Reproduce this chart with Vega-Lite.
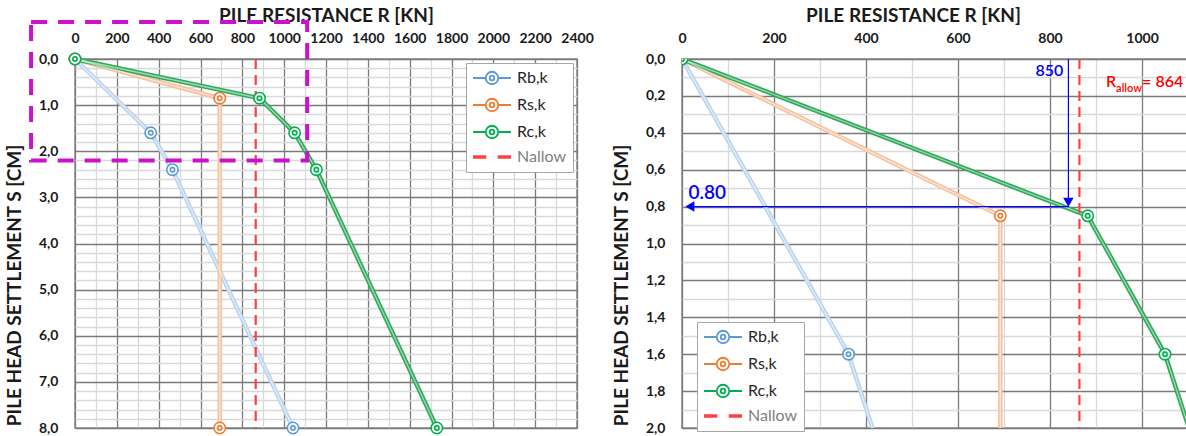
{
  "$schema": "https://vega.github.io/schema/vega-lite/v6.json",
  "padding": {"left": 4, "top": 5, "right": 0, "bottom": 0},
  "spacing": 17,
  "datasets": {
    "curves": [
      {"series": "Rb,k", "R": 0, "s": 0},
      {"series": "Rb,k", "R": 362, "s": 1.6},
      {"series": "Rb,k", "R": 466, "s": 2.4},
      {"series": "Rb,k", "R": 1042, "s": 8.0},
      {"series": "Rs,k", "R": 0, "s": 0},
      {"series": "Rs,k", "R": 692, "s": 0.85},
      {"series": "Rs,k", "R": 692, "s": 8.0},
      {"series": "Rc,k", "R": 0, "s": 0},
      {"series": "Rc,k", "R": 882, "s": 0.85},
      {"series": "Rc,k", "R": 1050, "s": 1.6},
      {"series": "Rc,k", "R": 1154, "s": 2.4},
      {"series": "Rc,k", "R": 1730, "s": 8.0}
    ],
    "nallow": [{"series": "Nallow", "R": 864}],
    "zoombox": [{"R": -210, "R2": 1110, "s": -0.8, "s2": 2.2}],
    "arrowV": [{"R": 840, "s": 0, "s2": 0.8}],
    "arrowH": [{"R": 840, "R2": 12, "s": 0.8}],
    "headV": [{"R": 840, "s": 0.776}],
    "headH": [{"R": 17, "s": 0.8}],
    "lab850": [{"R": 840, "s": 0.065, "text": "850"}],
    "lab080": [{"R": 14, "s": 0.725, "text": "0.80"}],
    "labR": [{"R": 922, "s": 0.125, "text": "R"}],
    "labAllow": [{"R": 922, "s": 0.125, "text": "allow"}],
    "labVal": [{"R": 922, "s": 0.125, "text": "=  864"}]
  },
  "resolve": {
    "scale": {"color": "independent", "stroke": "independent", "x": "independent", "y": "independent"},
    "legend": {"color": "independent"}
  },
  "hconcat": [
    {
      "width": 502,
      "height": 369,
      "layer": [
        {
          "data": {"name": "curves"},
          "mark": {"type": "line", "strokeWidth": 4.5, "strokeJoin": "round"},
          "encoding": {
            "x": {
              "field": "R", "type": "quantitative",
              "scale": {"domain": [0, 2400], "nice": false, "zero": false},
              "axis": {
                "orient": "top",
                "values": [0,100,200,300,400,500,600,700,800,900,1000,1100,1200,1300,1400,1500,1600,1700,1800,1900,2000,2100,2200,2300,2400],
                "tickCount": 1000,
                "format": "d",
                "labelExpr": "datum.value % 200 === 0 ? datum.label : ''",
                "grid": true,
                "gridColor": {"condition": {"test": "datum.value % 200 === 0", "value": "#7a7a7a"}, "value": "#d9d9d9"},
                "labelPadding": 14,
                "title": "PILE RESISTANCE  R [KN]",
                "titlePadding": 6
              }
            },
            "y": {
              "field": "s", "type": "quantitative",
              "scale": {"domain": [0, 8], "reverse": true, "nice": false, "zero": false},
              "axis": {
                "values": [0,0.2,0.4,0.6,0.8,1,1.2,1.4,1.6,1.8,2,2.2,2.4,2.6,2.8,3,3.2,3.4,3.6,3.8,4,4.2,4.4,4.6,4.8,5,5.2,5.4,5.6,5.8,6,6.2,6.4,6.6,6.8,7,7.2,7.4,7.6,7.8,8],
                "tickCount": 1000,
                "labelExpr": "abs(datum.value - round(datum.value)) < 0.001 ? replace(format(datum.value, '.1f'), '.', ',') : ''",
                "grid": true,
                "gridColor": {"condition": {"test": "abs(datum.value - round(datum.value)) < 0.001", "value": "#7a7a7a"}, "value": "#d9d9d9"},
                "labelPadding": 17,
                "title": "PILE HEAD SETTLEMENT  S [CM]",
                "titlePadding": 14,
                "titleY": 226
              }
            },
            "stroke": {
              "field": "series", "type": "nominal",
              "scale": {"domain": ["Rb,k", "Rs,k", "Rc,k"], "range": ["#bcd5ee", "#f6c3a0", "#2eaa58"]},
              "legend": null
            },
            "order": {"field": "s"}
          }
        },
        {
          "data": {"name": "curves"},
          "mark": {"type": "line", "strokeWidth": 1.3, "color": "white", "opacity": 0.55},
          "encoding": {
            "x": {"field": "R", "type": "quantitative"},
            "y": {"field": "s", "type": "quantitative"},
            "detail": {"field": "series"},
            "order": {"field": "s"}
          }
        },
        {
          "data": {"name": "nallow"},
          "mark": {"type": "rule", "strokeDash": [10, 6], "strokeWidth": 2.2},
          "encoding": {
            "x": {"field": "R", "type": "quantitative"},
            "color": {
              "field": "series", "type": "nominal",
              "scale": {"domain": ["Rb,k", "Rs,k", "Rc,k", "Nallow"], "range": ["#5b9bd5", "#ed7d31", "#00b050", "#ff4040"]},
              "legend": {
                "orient": "top-right", "offset": 4, "title": null,
                "strokeColor": "#a6a6a6", "fillColor": "white", "padding": 7,
                "symbolSize": 1444, "labelFontSize": 16, "labelFont": "Lato",
                "rowPadding": 7, "labelOffset": 6,
                "encode": {
                  "symbols": {
                    "enter": {"size": {"value": 1444}, "x": {"value": 19}},
                    "update": {
                      "shape": {"signal": "datum.value === 'Nallow' ? 'M-1,0H-0.3M0.3,0H1' : 'M-1,0H-0.33M0.33,0H1M-0.33,0A0.33,0.33 0 1,1 0.33,0A0.33,0.33 0 1,1 -0.33,0M-0.12,0A0.12,0.12 0 1,1 0.12,0A0.12,0.12 0 1,1 -0.12,0'"},
                      "size": {"value": 1444},
                      "x": {"value": 19},
                      "fill": {"value": "transparent"},
                      "strokeWidth": {"signal": "datum.value === 'Nallow' ? 3.5 : 1.8"},
                      "opacity": {"value": 1}
                    }
                  },
                  "labels": {
                    "enter": {"x": {"value": 44}},
                    "update": {
                      "x": {"value": 44},
                      "fill": {"signal": "datum.value === 'Nallow' ? '#808080' : '#262626'"}
                    }
                  }
                }
              }
            }
          }
        },
        {
          "data": {"name": "curves"},
          "mark": {"type": "point", "shape": "M-1,0A1,1 0 1,1 1,0A1,1 0 1,1 -1,0M-0.38,0A0.38,0.38 0 1,1 0.38,0A0.38,0.38 0 1,1 -0.38,0", "filled": false, "fill": "white", "fillOpacity": 0.8, "size": 130, "strokeWidth": 1.6, "opacity": 1},
          "encoding": {
            "x": {"field": "R", "type": "quantitative"},
            "y": {"field": "s", "type": "quantitative"},
            "color": {"field": "series", "type": "nominal"}
          }
        },
        {
          "data": {"name": "zoombox"},
          "mark": {"type": "rect", "filled": false, "stroke": "#cc11cc", "strokeWidth": 4, "strokeDash": [16, 11]},
          "encoding": {
            "x": {"field": "R", "type": "quantitative"},
            "x2": {"field": "R2"},
            "y": {"field": "s", "type": "quantitative"},
            "y2": {"field": "s2"}
          }
        }
      ]
    },
    {
      "width": 506,
      "height": 369,
      "layer": [
        {
          "data": {"name": "curves"},
          "mark": {"type": "line", "strokeWidth": 4.5, "strokeJoin": "round", "clip": true},
          "encoding": {
            "x": {
              "field": "R", "type": "quantitative",
              "scale": {"domain": [0, 1100], "nice": false, "zero": false},
              "axis": {
                "orient": "top",
                "values": [0,100,200,300,400,500,600,700,800,900,1000,1100],
                "tickCount": 1000,
                "format": "d",
                "labelExpr": "datum.value % 200 === 0 ? datum.label : ''",
                "grid": true,
                "gridColor": {"condition": {"test": "datum.value % 200 === 0", "value": "#7a7a7a"}, "value": "#d9d9d9"},
                "labelPadding": 14,
                "title": "PILE RESISTANCE  R [KN]",
                "titlePadding": 6,
                "titleX": 231
              }
            },
            "y": {
              "field": "s", "type": "quantitative",
              "scale": {"domain": [0, 2], "reverse": true, "nice": false, "zero": false},
              "axis": {
                "values": [0,0.1,0.2,0.3,0.4,0.5,0.6,0.7,0.8,0.9,1,1.1,1.2,1.3,1.4,1.5,1.6,1.7,1.8,1.9,2],
                "tickCount": 1000,
                "labelExpr": "abs(datum.value * 5 - round(datum.value * 5)) < 0.001 ? replace(format(datum.value, '.1f'), '.', ',') : ''",
                "grid": true,
                "gridColor": {"condition": {"test": "abs(datum.value * 5 - round(datum.value * 5)) < 0.001", "value": "#7a7a7a"}, "value": "#d9d9d9"},
                "labelPadding": 17,
                "title": "PILE HEAD SETTLEMENT  S [CM]",
                "titlePadding": 14,
                "titleY": 226
              }
            },
            "stroke": {
              "field": "series", "type": "nominal",
              "scale": {"domain": ["Rb,k", "Rs,k", "Rc,k"], "range": ["#bcd5ee", "#f6c3a0", "#2eaa58"]},
              "legend": null
            },
            "order": {"field": "s"}
          }
        },
        {
          "data": {"name": "curves"},
          "mark": {"type": "line", "strokeWidth": 1.3, "color": "white", "opacity": 0.55, "clip": true},
          "encoding": {
            "x": {"field": "R", "type": "quantitative"},
            "y": {"field": "s", "type": "quantitative"},
            "detail": {"field": "series"},
            "order": {"field": "s"}
          }
        },
        {
          "data": {"name": "arrowV"},
          "mark": {"type": "rule", "color": "#0000ff", "strokeWidth": 1.2},
          "encoding": {
            "x": {"field": "R", "type": "quantitative"},
            "y": {"field": "s", "type": "quantitative"},
            "y2": {"field": "s2"}
          }
        },
        {
          "data": {"name": "arrowH"},
          "mark": {"type": "rule", "color": "#0000ff", "strokeWidth": 1.2},
          "encoding": {
            "x": {"field": "R", "type": "quantitative"},
            "x2": {"field": "R2"},
            "y": {"field": "s", "type": "quantitative"}
          }
        },
        {
          "data": {"name": "headV"},
          "mark": {"type": "point", "shape": "triangle-down", "filled": true, "color": "#0000ff", "size": 110, "opacity": 1},
          "encoding": {
            "x": {"field": "R", "type": "quantitative"},
            "y": {"field": "s", "type": "quantitative"}
          }
        },
        {
          "data": {"name": "headH"},
          "mark": {"type": "point", "shape": "triangle-left", "filled": true, "color": "#0000ff", "size": 110, "opacity": 1},
          "encoding": {
            "x": {"field": "R", "type": "quantitative"},
            "y": {"field": "s", "type": "quantitative"}
          }
        },
        {
          "data": {"name": "nallow"},
          "mark": {"type": "rule", "strokeDash": [10, 6], "strokeWidth": 2.2},
          "encoding": {
            "x": {"field": "R", "type": "quantitative"},
            "color": {
              "field": "series", "type": "nominal",
              "scale": {"domain": ["Rb,k", "Rs,k", "Rc,k", "Nallow"], "range": ["#5b9bd5", "#ed7d31", "#00b050", "#ff4040"]},
              "legend": {
                "orient": "none", "legendX": 15, "legendY": 263, "title": null,
                "strokeColor": "#a6a6a6", "fillColor": "white", "padding": 7,
                "symbolSize": 1444, "labelFontSize": 16, "labelFont": "Lato",
                "rowPadding": 7, "labelOffset": 6,
                "encode": {
                  "symbols": {
                    "enter": {"size": {"value": 1444}, "x": {"value": 19}},
                    "update": {
                      "shape": {"signal": "datum.value === 'Nallow' ? 'M-1,0H-0.3M0.3,0H1' : 'M-1,0H-0.33M0.33,0H1M-0.33,0A0.33,0.33 0 1,1 0.33,0A0.33,0.33 0 1,1 -0.33,0M-0.12,0A0.12,0.12 0 1,1 0.12,0A0.12,0.12 0 1,1 -0.12,0'"},
                      "size": {"value": 1444},
                      "x": {"value": 19},
                      "fill": {"value": "transparent"},
                      "strokeWidth": {"signal": "datum.value === 'Nallow' ? 3.5 : 1.8"},
                      "opacity": {"value": 1}
                    }
                  },
                  "labels": {
                    "enter": {"x": {"value": 44}},
                    "update": {
                      "x": {"value": 44},
                      "fill": {"signal": "datum.value === 'Nallow' ? '#808080' : '#262626'"}
                    }
                  }
                }
              }
            }
          }
        },
        {
          "data": {"name": "curves"},
          "mark": {"type": "point", "shape": "M-1,0A1,1 0 1,1 1,0A1,1 0 1,1 -1,0M-0.38,0A0.38,0.38 0 1,1 0.38,0A0.38,0.38 0 1,1 -0.38,0", "filled": false, "fill": "white", "fillOpacity": 0.8, "size": 130, "strokeWidth": 1.6, "opacity": 1, "clip": true},
          "encoding": {
            "x": {"field": "R", "type": "quantitative"},
            "y": {"field": "s", "type": "quantitative"},
            "color": {"field": "series", "type": "nominal"}
          }
        },
        {
          "data": {"name": "lab850"},
          "mark": {"type": "text", "color": "#0000ff", "fontSize": 16, "align": "right", "dx": -5, "font": "Lato", "fontWeight": 600},
          "encoding": {
            "x": {"field": "R", "type": "quantitative"},
            "y": {"field": "s", "type": "quantitative"},
            "text": {"field": "text"}
          }
        },
        {
          "data": {"name": "lab080"},
          "mark": {"type": "text", "color": "#0000ff", "fontSize": 19, "align": "left", "font": "Lato", "fontWeight": 600},
          "encoding": {
            "x": {"field": "R", "type": "quantitative"},
            "y": {"field": "s", "type": "quantitative"},
            "text": {"field": "text"}
          }
        },
        {
          "data": {"name": "labR"},
          "mark": {"type": "text", "color": "#ff0000", "fontSize": 16, "align": "left", "font": "Lato", "fontWeight": 600},
          "encoding": {
            "x": {"field": "R", "type": "quantitative"},
            "y": {"field": "s", "type": "quantitative"},
            "text": {"field": "text"}
          }
        },
        {
          "data": {"name": "labAllow"},
          "mark": {"type": "text", "color": "#ff0000", "fontSize": 11, "align": "left", "dx": 10, "dy": 7, "font": "Lato", "fontWeight": 600},
          "encoding": {
            "x": {"field": "R", "type": "quantitative"},
            "y": {"field": "s", "type": "quantitative"},
            "text": {"field": "text"}
          }
        },
        {
          "data": {"name": "labVal"},
          "mark": {"type": "text", "color": "#ff0000", "fontSize": 16, "align": "left", "dx": 36, "font": "Lato", "fontWeight": 600},
          "encoding": {
            "x": {"field": "R", "type": "quantitative"},
            "y": {"field": "s", "type": "quantitative"},
            "text": {"field": "text"}
          }
        }
      ]
    }
  ],
  "config": {
    "font": "Lato",
    "view": {"stroke": "#8c8c8c", "strokeWidth": 1.5},
    "axis": {
      "ticks": false,
      "domain": false,
      "labelFont": "Lato",
      "labelFontWeight": "bold",
      "labelFontSize": 14,
      "labelColor": "#1a1a1a",
      "labelOverlap": false,
      "labelFlush": false,
      "gridWidth": 1.3,
      "titleFont": "Lato",
      "titleFontWeight": "bold",
      "titleFontSize": 19,
      "titleColor": "#1a1a1a"
    }
  }
}
